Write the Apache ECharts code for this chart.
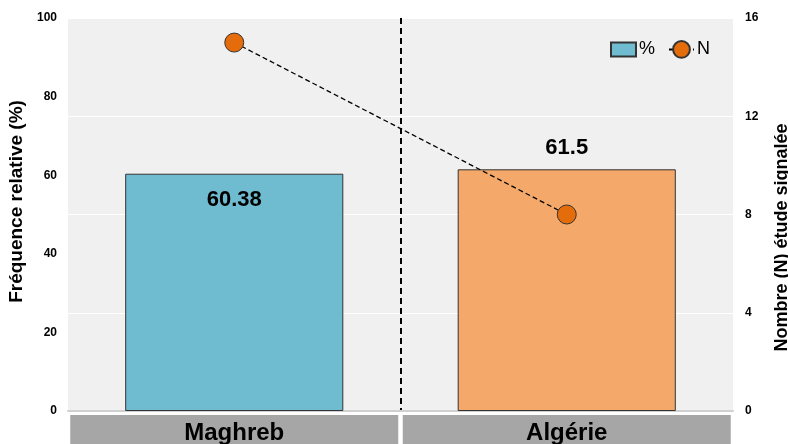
<!DOCTYPE html>
<html>
<head>
<meta charset="utf-8">
<script src="https://cdn.jsdelivr.net/npm/echarts@6/dist/echarts.min.js"></script>
<style>
  html, body { margin: 0; padding: 0; background: #ffffff; }
  #chart { width: 788px; height: 444px; }
</style>
</head>
<body>
<div id="chart"></div>
<script>
// Regions compared
const categories = ['Maghreb', 'Algérie'];
// Relative frequency (%) per region
const frequencyPct = [60.38, 61.5];
// Number of reporting studies (N) per region
const studyCount = [15, 8];
// Axis ranges
const leftTicks = { min: 0, max: 100, interval: 20 };
const rightTicks = { min: 0, max: 16, interval: 4 };

const barColors = ['#6fbbd0', '#f4a96a'];
const FONT = '"Liberation Sans", Arial, sans-serif';

const chart = echarts.init(document.getElementById('chart'), null, { renderer: 'canvas' });

chart.setOption({
  animation: false,
  textStyle: { fontFamily: FONT },
  grid: {
    left: 68, right: 55, top: 18, bottom: 33,
    containLabel: false,
    outerBoundsMode: 'none',
    show: true, backgroundColor: '#f0f0f0', borderWidth: 0
  },
  legend: {
    right: 73, top: 35,
    itemGap: 13, itemWidth: 25, itemHeight: 21,
    symbolKeepAspect: true,
    textStyle: { fontSize: 18, color: '#000', fontFamily: FONT, padding: [0, 0, 0, -2] },
    data: [
      { name: '%', icon: 'path://M0,0H25V14H0Z' },
      { name: 'N' }
    ]
  },
  xAxis: {
    type: 'category',
    data: categories,
    boundaryGap: true,
    axisLine: { show: true, lineStyle: { color: '#d0d0d0', width: 2 } },
    axisTick: { show: false },
    splitLine: {
      show: true,
      lineStyle: {
        color: ['rgba(0,0,0,0)', '#000', 'rgba(0,0,0,0)'],
        type: [6, 4], width: 2
      }
    },
    axisLabel: {
      interval: 0,
      hideOverlap: false,
      margin: 4,
      fontSize: 24, fontWeight: 'bold', color: '#000', fontFamily: FONT,
      backgroundColor: '#a6a6a6',
      width: 328, height: 36, lineHeight: 36,
      align: 'center', verticalAlign: 'top',
      overflow: 'none'
    }
  },
  yAxis: [
    {
      type: 'value',
      min: leftTicks.min, max: leftTicks.max, interval: leftTicks.interval,
      name: 'Fréquence relative (%)',
      nameLocation: 'middle', nameGap: 40, nameRotate: 90,
      nameTextStyle: {
        fontSize: 19, fontWeight: 'bold', color: '#000', fontFamily: FONT,
        padding: [0, 0, 0, 26]
      },
      axisLine: { show: false }, axisTick: { show: false },
      splitLine: { show: false },
      axisLabel: { fontSize: 12, fontWeight: 'bold', color: '#000', margin: 11, fontFamily: FONT }
    },
    {
      type: 'value',
      min: rightTicks.min, max: rightTicks.max, interval: rightTicks.interval,
      name: 'Nombre (N) étude signalée',
      nameLocation: 'middle', nameGap: 40, nameRotate: 90,
      nameTextStyle: {
        fontSize: 18, fontWeight: 'bold', color: '#000', fontFamily: FONT,
        padding: [0, 46, 0, 0]
      },
      axisLine: { show: false }, axisTick: { show: false },
      splitLine: { show: true, lineStyle: { color: '#ffffff', width: 1 } },
      axisLabel: { fontSize: 12, fontWeight: 'bold', color: '#000', margin: 12, fontFamily: FONT }
    }
  ],
  series: [
    {
      name: '%',
      type: 'bar',
      yAxisIndex: 0,
      barWidth: '65.6%',
      itemStyle: { color: barColors[0], borderColor: '#333', borderWidth: 1 },
      data: frequencyPct.map((v, i) => ({
        value: v,
        itemStyle: { color: barColors[i], borderColor: '#333', borderWidth: 1 },
        label: i === 0
          ? { show: true, position: 'insideTop', distance: 15 }
          : { show: true, position: 'top', distance: 10 }
      })),
      label: {
        show: true,
        fontSize: 22, fontWeight: 'bold', color: '#000', fontFamily: FONT,
        formatter: p => String(p.value)
      },
      z: 2
    },
    {
      name: 'N',
      type: 'line',
      yAxisIndex: 1,
      data: studyCount,
      symbol: 'circle',
      symbolSize: 19,
      lineStyle: { color: '#000', width: 1.3, type: [5, 3] },
      itemStyle: { color: '#e46c0a', borderColor: '#333', borderWidth: 1 },
      z: 3
    }
  ]
});
</script>
</body>
</html>
